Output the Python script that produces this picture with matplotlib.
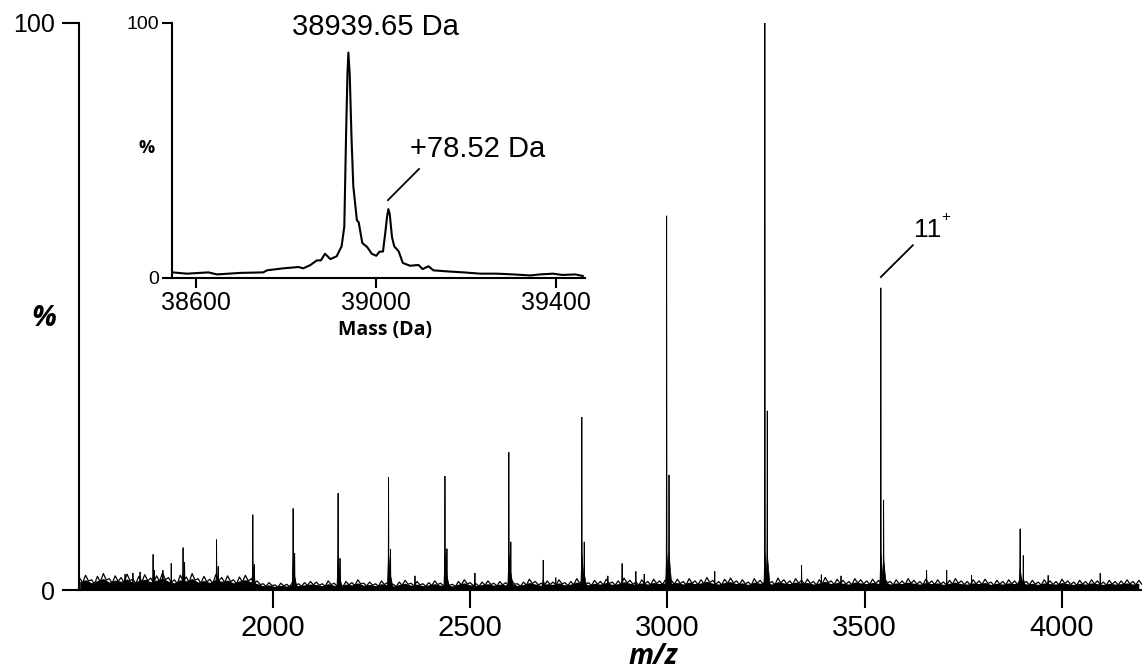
"""
Native MS spectrum with deconvoluted mass inset
"""

import numpy as np
import matplotlib
matplotlib.use("Agg")
import matplotlib.pyplot as plt

# --- main spectrum: charge-state series (m/z, % intensity) ---
series_mz = [1696, 1772, 1857, 1949, 2051, 2165, 2293, 2436, 2598, 2783, 2998, 3247, 3541, 3894]
series_pct = [6.3, 7.5, 8.9, 13.3, 14.4, 17.1, 19.9, 20.1, 24.3, 30.5, 66.0, 100.0, 53.3, 10.8]

# +78.52 Da adduct peaks next to each charge state
adduct_mz = [1699, 1776, 1861, 1953, 2055, 2170, 2298, 2441, 2603, 2789, 3004, 3253, 3548, 3902]
adduct_pct = [3.5, 4.9, 4.2, 4.5, 6.5, 5.6, 7.2, 7.3, 8.5, 8.5, 20.3, 31.6, 15.9, 6.1]

# small unassigned peaks
minor_mz = [1625, 1645, 1663, 1721, 1742, 2360, 2512, 2685, 2717, 2849, 2885, 2920, 2941,
            3120, 3340, 3390, 3440, 3657, 3708, 3771, 3965, 4097]
minor_pct = [2.8, 3.0, 3.2, 3.5, 4.7, 2.5, 3.0, 5.3, 2.2, 2.5, 4.7, 3.3, 2.8,
             3.3, 4.4, 2.7, 2.5, 3.5, 3.5, 2.6, 2.6, 3.0]

# baseline noise level, one value every 15 m/z from 1510
noise_start, noise_step = 1510, 15
noise_pct = [
    2.1, 2.6, 1.8, 2.4, 2.9, 2.0, 2.5, 2.2, 2.8, 1.9, 2.4, 2.7, 2.1, 2.5, 3.0,
    2.2, 1.8, 2.6, 2.3, 2.9, 2.0, 2.4, 1.9, 2.7, 2.2, 2.5, 1.8, 2.3, 2.6, 2.0,
    1.6, 1.1, 1.3, 0.9, 1.2, 1.0, 1.4, 1.1, 1.3, 1.5,
    1.4, 1.1, 1.6, 1.2, 1.0, 1.5, 1.3, 1.8, 1.2, 1.4, 1.1, 1.6, 1.3, 1.0, 1.4,
    1.7, 1.2, 1.5, 1.1, 1.3, 1.6, 1.2, 1.4, 1.0, 1.5, 1.8, 1.3, 1.1, 1.4, 1.6,
    1.2, 1.5, 1.3, 1.7, 1.1, 1.4, 1.9, 1.5, 1.2, 1.6, 1.4, 1.8, 1.3, 1.5, 2.0,
    1.6, 1.3, 1.7, 1.5, 1.9, 1.4, 1.6, 2.1, 1.7, 1.4, 1.8, 1.5, 1.9, 1.6, 1.8,
    1.7, 1.9, 1.5, 2.0, 1.6, 1.8, 2.2, 1.7, 1.5, 1.9, 2.1, 1.6, 1.8, 1.4, 2.0,
    1.7, 1.9, 1.5, 2.1, 1.8, 1.6, 2.0, 1.7, 1.9, 1.5, 1.8, 2.2, 1.6, 1.9, 1.7,
    1.5, 2.0, 1.8, 1.6, 1.9, 1.7, 2.1, 1.5, 1.8, 1.6, 2.0, 1.7, 1.5, 1.9, 1.6,
    1.8, 1.4, 1.7, 2.0, 1.6, 1.5, 1.8, 1.6, 1.9, 1.4, 1.7, 1.5, 1.8, 1.6, 2.0,
    1.5, 1.7, 1.4, 1.8, 1.6, 1.5, 1.9, 1.6, 1.4, 1.7, 1.5, 1.8, 1.6, 1.4, 1.7,
    1.5, 1.6, 1.8, 1.5, 1.7,
]

# --- inset: deconvoluted mass spectrum (Da, %) ---
mass_da = [38548, 38580, 38628, 38647, 38699, 38750, 38758, 38795, 38828, 38839,
           38854, 38869, 38878, 38887, 38899, 38913, 38924, 38930, 38934, 38937,
           38939, 38942, 38946, 38950, 38958, 38962, 38970, 38981, 38991, 39001,
           39008, 39016, 39021, 39025, 39028, 39031, 39036, 39041, 39051, 39060,
           39076, 39095, 39104, 39117, 39128, 39158, 39195, 39232, 39269, 39306,
           39343, 39365, 39394, 39414, 39444, 39460]
mass_pct = [2.2, 1.7, 2.2, 1.4, 2.0, 2.2, 3.0, 3.8, 4.3, 3.8,
            5.0, 6.9, 6.9, 9.5, 7.4, 8.5, 12.4, 20.2, 56.7, 80.0,
            88.3, 80.0, 55.0, 35.9, 22.6, 21.8, 13.7, 12.1, 9.5, 8.7,
            10.3, 10.4, 17.6, 24.0, 27.0, 25.0, 16.0, 12.4, 10.4, 5.9,
            4.8, 5.1, 3.5, 4.6, 3.0, 2.6, 2.2, 1.7, 1.7, 1.4,
            1.0, 1.4, 1.7, 1.2, 1.4, 0.8]

main_xticks = [2000, 2500, 3000, 3500, 4000]
inset_xticks = [38600, 39000, 39400]

TICK_FONT = "Liberation Sans"
LABEL_FONT = "Open Sans"

W, H = 1142, 670
fig = plt.figure(figsize=(W / 100, H / 100), dpi=100)


def fx(px):
    return px / W


def fy(py):
    return 1 - py / H


# main axes
ax = fig.add_axes([fx(78.5), fy(590), fx(1142 - 78.5), fy(23) - fy(590)])
ax.set_xlim(1507, 4203)
ax.set_ylim(0, 100)

# baseline noise: solid band with a jagged top
noise_mz = noise_start + noise_step * np.arange(len(noise_pct))
noise_pct = np.array(noise_pct)
ax.fill_between(noise_mz, 0, 0.7 * noise_pct, color="black", lw=0)
zig_x = np.ravel(np.column_stack([noise_mz, noise_mz + noise_step / 2]))
zig_y = np.ravel(np.column_stack([noise_pct, 0.6 * noise_pct]))
ax.plot(zig_x, zig_y, color="black", lw=0.9)


def draw_peak(mz, h):
    # thin spike with a flared base
    b = min(0.35 * h, 6.5)
    ax.fill([mz - 3, mz, mz + 8], [0, b, 0], color="black", lw=0.5)
    ax.fill([mz - 1.0, mz, mz + 1.0], [0, h, 0], facecolor="black",
            edgecolor="black", lw=0.6)


for m, h in zip(minor_mz, minor_pct):
    draw_peak(m, h)
for m, h in zip(adduct_mz, adduct_pct):
    draw_peak(m, h)
for m, h in zip(series_mz, series_pct):
    draw_peak(m, h)

for s in ["top", "right"]:
    ax.spines[s].set_visible(False)
for s in ["left", "bottom"]:
    ax.spines[s].set_linewidth(1.5)
ax.spines["bottom"].set_zorder(5)
ax.set_xticks(main_xticks)
ax.set_xticklabels([str(t) for t in main_xticks], fontsize=21, family=TICK_FONT)
ax.set_yticks([0, 100])
ax.set_yticklabels(["0", "100"], fontsize=18, family=TICK_FONT)
ax.tick_params(axis="x", direction="out", length=13, width=1.5, pad=4)
ax.tick_params(axis="y", direction="out", length=12.6, width=1.5, pad=4)

# 11+ annotation
ax.plot([3541, 3622], [55.2, 60.8], color="black", lw=1.3)
ax.text(3625, 62.2, "11", fontsize=19, family=TICK_FONT, ha="left", va="baseline")
ax.text(3693, 65.0, "+", fontsize=11, family=TICK_FONT, ha="left", va="baseline")

fig.text(fx(44), fy(318), "%", fontsize=21, fontweight="bold", style="italic",
         family=LABEL_FONT, ha="center", va="center")
fig.text(fx(653), fy(657), "m/z", fontsize=20, fontweight="bold", style="italic",
         family=LABEL_FONT, ha="center", va="center")

# inset axes
ax_in = fig.add_axes([fx(172), fy(278), fx(585 - 172), fy(22.7) - fy(278)])
ax_in.set_xlim(38547, 39465)
ax_in.set_ylim(0, 100)
ax_in.plot(mass_da, mass_pct, color="black", lw=1.5, solid_joinstyle="round")
for s in ["top", "right"]:
    ax_in.spines[s].set_visible(False)
for s in ["left", "bottom"]:
    ax_in.spines[s].set_linewidth(1.5)
ax_in.set_xticks(inset_xticks)
ax_in.set_xticklabels([str(t) for t in inset_xticks], fontsize=18, family=TICK_FONT)
ax_in.set_yticks([0, 100])
ax_in.set_yticklabels(["0", "100"], fontsize=14, family=TICK_FONT)
ax_in.tick_params(axis="x", direction="out", length=7.5, width=1.5, pad=2)
ax_in.tick_params(axis="y", direction="out", length=7.5, width=1.5, pad=2)
ax_in.patch.set_alpha(0)

ax_in.plot([39027, 39096], [30.5, 42.7], color="black", lw=1.3)
fig.text(fx(375), fy(35), "38939.65 Da", fontsize=21, family=TICK_FONT,
         ha="center", va="baseline")
fig.text(fx(478), fy(157), "+78.52 Da", fontsize=21, family=TICK_FONT,
         ha="center", va="baseline")
fig.text(fx(147), fy(148), "%", fontsize=13, fontweight="bold",
         family=LABEL_FONT, ha="center", va="center")
fig.text(fx(385), fy(330), "Mass (Da)", fontsize=14, fontweight="bold",
         family=LABEL_FONT, ha="center", va="center")

fig.savefig("out.png", dpi=100)
plt.close(fig)
